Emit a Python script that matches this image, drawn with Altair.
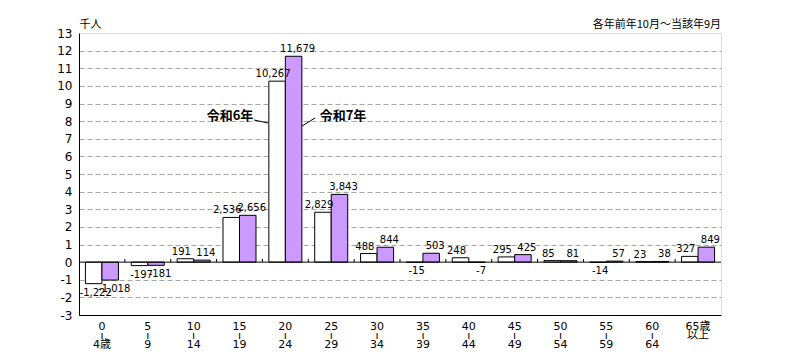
import altair as alt
import pandas as pd

categories = ["0-4", "5-9", "10-14", "15-19", "20-24", "25-29", "30-34",
              "35-39", "40-44", "45-49", "50-54", "55-59", "60-64", "65+"]
tick_labels = ["0\nı\n4歳", "5\nı\n9", "10\nı\n14", "15\nı\n19", "20\nı\n24",
               "25\nı\n29", "30\nı\n34", "35\nı\n39", "40\nı\n44", "45\nı\n49",
               "50\nı\n54", "55\nı\n59", "60\nı\n64", "65歳\n以上"]
series = ["令和6年", "令和7年"]
r6 = [-1222, -197, 191, 2536, 10267, 2829, 488, -15, 248, 295, 85, -14, 23, 327]
r7 = [-1018, -181, 114, 2656, 11679, 3843, 844, 503, -7, 425, 81, 57, 38, 849]
y_ticks = list(range(-3, 14))
note = "各年前年10月～当該年9月"
unit = "千人"

rows = []
for s, vals in zip(series, [r6, r7]):
    for c, v in zip(categories, vals):
        rows.append({"cat": c, "series": s, "value": v / 1000.0,
                     "label": f"{v:,}"})
df = pd.DataFrame(rows)

# group boundaries (between neighbouring age classes)
bounds = pd.DataFrame({"b": list(range(1, len(categories))),
                       "y0": 0.0, "y1": 0.18})

label_expr = "split({" + ",".join(
    f"'{c}':'{t.replace(chr(10), '~')}'" for c, t in zip(categories, tick_labels)
) + "}[datum.label], '~')"

NUM_FONT = "DejaVu Sans, Noto Sans CJK JP"
JP_FONT = "Noto Sans CJK JP"

x_scale = alt.Scale(domain=categories, paddingInner=0.28, paddingOuter=0.14)
y_scale = alt.Scale(domain=[-3, 13], nice=False, zero=False)
xoff = alt.XOffset("series:N", sort=series,
                   scale=alt.Scale(domain=series, paddingInner=0, paddingOuter=0))

y_axis = alt.Axis(values=y_ticks, title=unit, titleAngle=0,
                  titleX=0, titleY=-9, titleAlign="left",
                  titleBaseline="middle", titleFont=JP_FONT,
                  titleFontSize=11, titleFontWeight="normal",
                  titleColor="black",
                  labelExpr="'' + datum.value",
                  labelFont=NUM_FONT, labelFontSize=12,
                  labelColor="black", labelPadding=7,
                  labelOverlap=False,
                  ticks=False, domainColor="black",
                  grid=True, gridColor="#a3a8a3",
                  gridDash=[5, 3],
                  gridOpacity={"condition": {
                      "test": "datum.value == 0 || datum.value == 13 || datum.value == -3",
                      "value": 0}, "value": 1})

base = alt.Chart(df)

bars = base.mark_bar(stroke="black", strokeWidth=1).encode(
    x=alt.X("cat:N", sort=categories, scale=x_scale,
            axis=alt.Axis(title=None, labelExpr=label_expr, labelAngle=0,
                          labelFont=NUM_FONT, labelFontSize=11,
                          labelColor="black", labelLineHeight=9,
                          labelBaseline="top", labelPadding=5,
                          labelOverlap=False,
                          ticks=False, domainColor="black")),
    xOffset=xoff,
    y=alt.Y("value:Q", scale=y_scale, axis=y_axis),
    color=alt.Color("series:N", scale=alt.Scale(domain=series,
                    range=["#FFFFFF", "#CC99FF"]), legend=None),
)

zero_rule = alt.Chart(pd.DataFrame({"value": [0.0]})).mark_rule(
    color="black", strokeWidth=1).encode(
    y=alt.Y("value:Q", scale=y_scale, axis=y_axis))

def value_labels(sname, dx_pos, dx_neg):
    sub = base.transform_filter(alt.datum.series == sname)
    enc = dict(x=alt.X("cat:N", sort=categories, scale=x_scale, axis=None),
               xOffset=xoff, y=alt.Y("value:Q", scale=y_scale, axis=y_axis),
               text="label:N")
    pos = sub.transform_filter(alt.datum.value >= 0).mark_text(
        baseline="bottom", dy=-2, dx=dx_pos, font=NUM_FONT, fontSize=10,
        color="black").encode(**enc)
    neg = sub.transform_filter(alt.datum.value < 0).mark_text(
        baseline="top", dy=4, dx=dx_neg, font=NUM_FONT, fontSize=10,
        color="black").encode(**enc)
    return alt.layer(pos, neg)

lab6 = value_labels(series[0], -4, 2)
lab7 = value_labels(series[1], 4, 4)

ticks = alt.Chart(bounds).mark_rule(color="black", strokeWidth=1).encode(
    x=alt.X("b:Q", scale=alt.Scale(domain=[0, len(categories)], nice=False,
                                   zero=False), axis=None),
    y=alt.Y("y0:Q", scale=y_scale, axis=y_axis),
    y2="y1:Q",
)

one = pd.DataFrame({"a": [0]})
ann6 = alt.Chart(one).mark_text(text=series[0], font=JP_FONT, fontSize=13,
                                fontWeight="bold", color="black").encode(
    x=alt.value(151), y=alt.value(83))
ann7 = alt.Chart(one).mark_text(text=series[1], font=JP_FONT, fontSize=13,
                                fontWeight="bold", color="black").encode(
    x=alt.value(264), y=alt.value(83))
lead6 = alt.Chart(one).mark_rule(color="black", strokeWidth=1).encode(
    x=alt.value(175), y=alt.value(87), x2=alt.value(189), y2=alt.value(90))
lead7 = alt.Chart(one).mark_rule(color="black", strokeWidth=1).encode(
    x=alt.value(223), y=alt.value(93), x2=alt.value(236), y2=alt.value(85))
note_txt = alt.Chart(one).mark_text(text=note, font=JP_FONT, fontSize=11,
                                    align="right", baseline="middle",
                                    color="black").encode(
    x=alt.value(642), y=alt.value(-8))

chart = alt.layer(
    bars, zero_rule, ticks, lab6, lab7, ann6, ann7, lead6, lead7, note_txt
).resolve_scale(x="independent").resolve_axis(x="independent").properties(
    width=642, height=282,
    autosize=alt.AutoSizeParams(type="none"),
    padding={"left": 79, "top": 33, "right": 79, "bottom": 45},
).configure_view(stroke="#555555", strokeWidth=1.5).configure(
    background="white")

chart.save("out.html", embed_options={"renderer": "svg", "actions": False})
